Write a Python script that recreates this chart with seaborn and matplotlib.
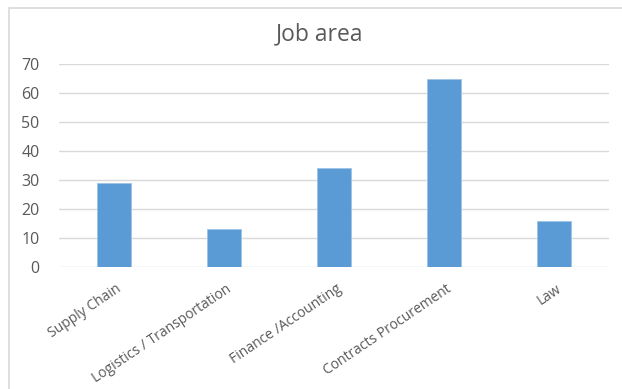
import matplotlib
matplotlib.use("Agg")
import matplotlib.pyplot as plt
import matplotlib.patches as mpatches
import matplotlib.transforms as mtrans
import seaborn as sns
import pandas as pd

categories = ["Supply Chain", "Logistics / Transportation", "Finance /Accounting",
              "Contracts Procurement", "Law"]
values = [29, 13, 34, 65, 16]
yticks = [0, 10, 20, 30, 40, 50, 60, 70]

sns.set_theme(style="white")
plt.rcParams['font.family'] = ['Open Sans', 'DejaVu Sans']

W, H = 622, 389
fig = plt.figure(figsize=(W / 100, H / 100), dpi=100)
fig.patch.set_facecolor("white")

# chart border
fig.add_artist(mpatches.Rectangle((9 / W, -0.1), 1.2, 1 - 8 / H + 0.1,
                                  transform=fig.transFigure, fill=False,
                                  edgecolor="#d9d9d9", linewidth=1.2))

left, right = 59 / W, 609 / W
bottom, top = 1 - 267 / H, 1 - 64 / H
ax = fig.add_axes([left, bottom, right - left, top - bottom])

df = pd.DataFrame({"cat": categories, "val": values})
sns.barplot(data=df, x="cat", y="val", ax=ax, color="#5b9bd5", width=0.31,
            saturation=1, edgecolor="#9dc3e6", linewidth=0.6)

ax.set_ylim(0, 70)
ax.set_xlim(-0.5, len(categories) - 0.5)
ax.set_yticks(yticks)
ax.yaxis.grid(True, color="#d9d9d9", linewidth=1)
ax.set_axisbelow(True)
for s in ax.spines.values():
    s.set_visible(False)
ax.set_xlabel("")
ax.set_ylabel("")
ax.tick_params(axis="both", length=0, colors="#595959")
ax.tick_params(axis="y", pad=14, labelsize=11.5)
ax.set_xticks(range(len(categories)))
ax.set_xticklabels(categories, rotation=34, ha="right", va="center",
                   rotation_mode="anchor", color="#595959", fontsize=10)
ax.tick_params(axis="x", pad=0)
off = mtrans.ScaledTranslation(6 / 100, -21 / 100, fig.dpi_scale_trans)
for lbl in ax.get_xticklabels():
    lbl.set_transform(lbl.get_transform() + off)

fig.text(320 / W, 1 - 34 / H, "Job area", ha="center", va="center",
         fontsize=16.5, color="#595959")

fig.savefig("out.png", dpi=100, facecolor="white")
